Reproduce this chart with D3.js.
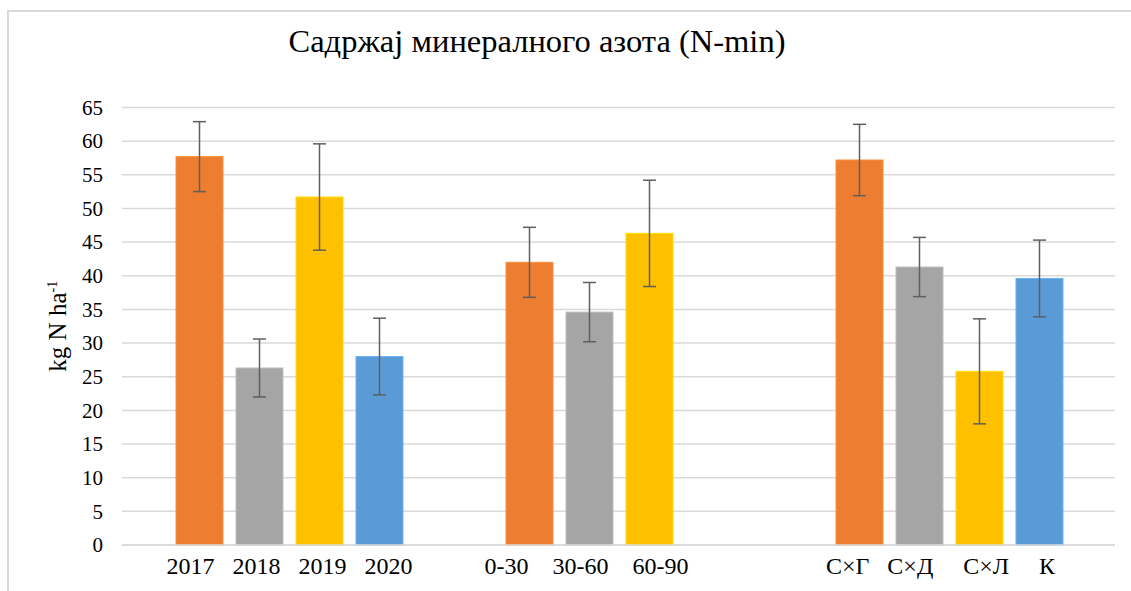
<!DOCTYPE html>
<html>
<head>
<meta charset="utf-8">
<script src="https://cdn.jsdelivr.net/npm/d3@7"></script>
<style>
  html, body { margin: 0; padding: 0; background: #fff; }
  svg { display: block; }
  text { font-family: "Liberation Serif", "Times New Roman", serif; fill: #000; }
</style>
</head>
<body>
<svg id="chart" width="1131" height="591"></svg>
<script>
// Mineral nitrogen content by year, soil depth and crop treatment
const groups = ["years", "depths", "treatments"];
const barLabels = [
  ["2017", "2018", "2019", "2020"],
  ["0-30", "30-60", "60-90"],
  ["С×Г", "С×Д", "С×Л", "К"]
];
const meanValues = [
  [57.7, 26.3, 51.7, 28.0],
  [42.0, 34.6, 46.3],
  [57.2, 41.3, 25.8, 39.6]
];
const errorValues = [
  [5.2, 4.3, 7.9, 5.7],
  [5.2, 4.4, 7.9],
  [5.3, 4.4, 7.8, 5.7]
];
// category labels as typed, with spacing between the entries
const groupTickLabels = [
  "2017   2018   2019   2020",
  "0-30    30-60    60-90           ",
  "С×Г   С×Д     С×Л     К   "
];
const yTicks = d3.range(0, 66, 5);
const seriesColors = ["#ED7D31", "#A5A5A5", "#FFC000", "#5B9BD5"];
const serif = "Liberation Serif, Times New Roman, serif";

const svg = d3.select("#chart");

// chart area frame
svg.append("rect")
  .attr("x", 8).attr("y", 11)
  .attr("width", 1200).attr("height", 700)
  .attr("fill", "#fff")
  .attr("stroke", "#d9d9d9").attr("stroke-width", 2);

const plot = { left: 122, right: 1115, top: 107.5, bottom: 545 };

const y = d3.scaleLinear().domain([0, 65]).range([plot.bottom, plot.top]);
const xGroup = d3.scaleBand().domain(groups).range([124.5, 1114.5]);
const xSlot = d3.scaleBand().domain([0, 1, 2, 3]).range([0, 240])
  .paddingInner(0.2167).paddingOuter(0.1083);
const groupCenter = g => xGroup(g) + xGroup.bandwidth() / 2;

// horizontal gridlines
svg.append("g")
  .selectAll("line")
  .data(yTicks)
  .join("line")
  .attr("x1", plot.left).attr("x2", plot.right)
  .attr("y1", d => y(d)).attr("y2", d => y(d))
  .attr("stroke", "#d9d9d9").attr("stroke-width", 1.5);

// y axis labels
const yAxis = svg.append("g")
  .attr("transform", `translate(${plot.left},0)`)
  .attr("font-family", serif)
  .call(d3.axisLeft(y).tickValues(yTicks).tickSize(0).tickPadding(19));
yAxis.select(".domain").remove();
yAxis.selectAll("text")
  .attr("font-family", serif)
  .attr("font-size", 21)
  .attr("fill", "#000");

// bars and error bars
const bars = [];
groups.forEach((g, gi) => {
  meanValues[gi].forEach((v, i) => {
    bars.push({ group: g, slot: i, label: barLabels[gi][i], value: v, err: errorValues[gi][i] });
  });
});
const barX = d => groupCenter(d.group) - 120 + xSlot(d.slot);

svg.append("g")
  .selectAll("rect")
  .data(bars)
  .join("rect")
  .attr("x", d => barX(d))
  .attr("y", d => y(d.value))
  .attr("width", xSlot.bandwidth())
  .attr("height", d => y(0) - y(d.value))
  .attr("fill", d => seriesColors[d.slot])
  .attr("stroke", d => d3.color(seriesColors[d.slot]).brighter(0.4))
  .attr("stroke-width", 1);

const errG = svg.append("g").attr("stroke", "#5f5f5f").attr("stroke-width", 1.5);
const cx = d => barX(d) + xSlot.bandwidth() / 2;
errG.selectAll("line.stem")
  .data(bars).join("line").attr("class", "stem")
  .attr("x1", cx).attr("x2", cx)
  .attr("y1", d => y(d.value + d.err)).attr("y2", d => y(d.value - d.err));
errG.selectAll("line.capTop")
  .data(bars).join("line").attr("class", "capTop")
  .attr("x1", d => cx(d) - 6.5).attr("x2", d => cx(d) + 6.5)
  .attr("y1", d => y(d.value + d.err)).attr("y2", d => y(d.value + d.err));
errG.selectAll("line.capBottom")
  .data(bars).join("line").attr("class", "capBottom")
  .attr("x1", d => cx(d) - 6.5).attr("x2", d => cx(d) + 6.5)
  .attr("y1", d => y(d.value - d.err)).attr("y2", d => y(d.value - d.err));

// x axis baseline and category labels
svg.append("line")
  .attr("x1", plot.left).attr("x2", plot.right)
  .attr("y1", y(0)).attr("y2", y(0))
  .attr("stroke", "#d9d9d9").attr("stroke-width", 1.5);

const xAxis = svg.append("g")
  .attr("transform", `translate(0,${plot.bottom})`)
  .attr("font-family", serif)
  .call(d3.axisBottom(xGroup).tickSize(0).tickPadding(12)
    .tickFormat((d, i) => groupTickLabels[i]));
xAxis.select(".domain").remove();
xAxis.selectAll("text")
  .attr("font-family", serif)
  .attr("font-size", 24)
  .attr("fill", "#000")
  .style("white-space", "pre")
  .attr("xml:space", "preserve");

// y axis title
svg.append("text")
  .attr("transform", `translate(66,${(plot.top + plot.bottom) / 2}) rotate(-90)`)
  .attr("text-anchor", "middle")
  .attr("font-family", serif)
  .attr("font-size", 25)
  .html('kg N ha<tspan dy="-9" font-size="14">-1</tspan>');

// chart title
svg.append("text")
  .attr("x", 537).attr("y", 52)
  .attr("text-anchor", "middle")
  .attr("font-family", serif)
  .attr("font-size", 32.5)
  .text("Садржај минералного азота (N-min)");
</script>
</body>
</html>
